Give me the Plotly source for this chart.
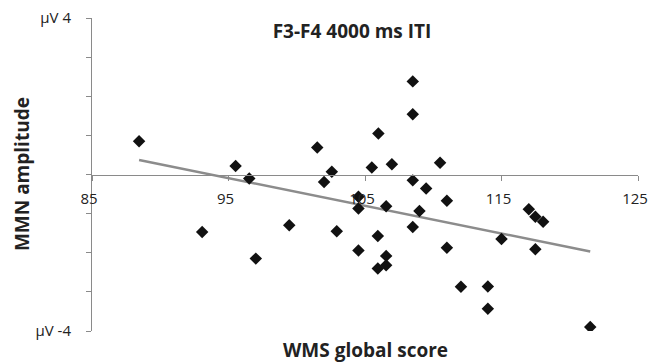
import numpy as np
import plotly.graph_objects as go

# WMS global score (x) and MMN amplitude in µV (y)
wms_score = [88.45, 93.07, 95.52, 96.52, 97.0, 99.45, 101.5, 102.0, 102.57, 102.93,
             104.52, 104.52, 104.52, 105.5, 105.98, 105.94, 105.94, 106.55, 106.55, 106.55,
             106.97, 108.5, 108.5, 108.5, 108.5, 108.99, 109.48, 110.5, 111.0, 111.0,
             112.03, 114.0, 114.0, 115.0, 117.0, 117.48, 118.05, 117.48, 121.5]
mmn_amplitude = [0.85, -1.47, 0.22, -0.10, -2.15, -1.30, 0.69, -0.19, 0.07, -1.45,
                 -0.57, -0.87, -1.94, 0.18, 1.05, -1.57, -2.40, -0.81, -2.08, -2.32,
                 0.26, 2.38, 1.54, -0.15, -1.34, -0.93, -0.36, 0.30, -0.67, -1.87,
                 -2.87, -2.86, -3.43, -1.65, -0.89, -1.08, -1.21, -1.91, -3.90]

x_tickvals = [85, 95, 105, 115, 125]
y_tickvals = [-4, -3, -2, -1, 0, 1, 2, 3, 4]
y_ticktext = ["µV -4", "", "", "", "", "", "", "", "µV 4"]

title_text = "F3-F4 4000 ms ITI"
x_title = "WMS global score"
y_title = "MMN amplitude"

# Linear trendline (Excel-style) spanning the data range
slope, intercept = np.polyfit(wms_score, mmn_amplitude, 1)
trend_x = [min(wms_score), max(wms_score)]
trend_y = [slope * v + intercept for v in trend_x]

FONT = "Open Sans"
AXIS_COLOR = "#8a8a8a"
TXT = "#222222"

W, H = 648, 362

fig = go.Figure()
fig.add_trace(go.Scatter(
    x=trend_x, y=trend_y, mode="lines",
    line=dict(color="#8c8c8c", width=2.5),
    hoverinfo="skip", showlegend=False))
fig.add_trace(go.Scatter(
    x=wms_score, y=mmn_amplitude, mode="markers",
    marker=dict(symbol="diamond", size=9.6, color="#111111"),
    showlegend=False))

fig.update_layout(
    width=W, height=H,
    margin=dict(l=92, r=10, t=18, b=31),
    paper_bgcolor="white", plot_bgcolor="white",
    font=dict(family=FONT, color=TXT),
    title=dict(text="<b>" + title_text + "</b>", x=352 / W, xanchor="center",
               y=1 - 31 / H, yanchor="middle", yref="container",
               font=dict(family=FONT, size=19, color=TXT)),
    xaxis=dict(range=[85, 125], tickvals=x_tickvals,
               anchor="free", position=0.5, automargin=False,
               showline=True, linecolor=AXIS_COLOR, linewidth=1,
               ticks="outside", ticklen=5, tickcolor=AXIS_COLOR,
               ticklabelstandoff=5, ticklabelshift=-3, ticklabeloverflow="allow",
               tickfont=dict(family=FONT, size=15, color=TXT),
               showgrid=False, zeroline=False),
    yaxis=dict(range=[-4, 4], tickvals=y_tickvals, ticktext=y_ticktext,
               automargin=False,
               showline=True, linecolor=AXIS_COLOR, linewidth=1,
               ticks="outside", ticklen=5, tickcolor=AXIS_COLOR,
               ticklabelstandoff=12, ticklabeloverflow="allow",
               tickfont=dict(family=FONT, size=15, color=TXT),
               showgrid=False, zeroline=False),
    annotations=[
        dict(text="<b>" + x_title + "</b>", x=0.5, y=-0.061, xref="paper", yref="paper",
             xanchor="center", yanchor="middle", showarrow=False,
             font=dict(family=FONT, size=19, color=TXT)),
        dict(text="<b>" + y_title + "</b>", x=-0.129, y=0.5, xref="paper", yref="paper",
             xanchor="center", yanchor="middle", showarrow=False, textangle=-90,
             font=dict(family=FONT, size=19, color=TXT)),
    ],
)

# remove the browser's default 8 px page margin so the figure fills the window
fig.write_html("out.html",
               config={"displayModeBar": False},
               post_script="document.body.style.margin='0';"
                           "document.body.style.overflow='hidden';")
